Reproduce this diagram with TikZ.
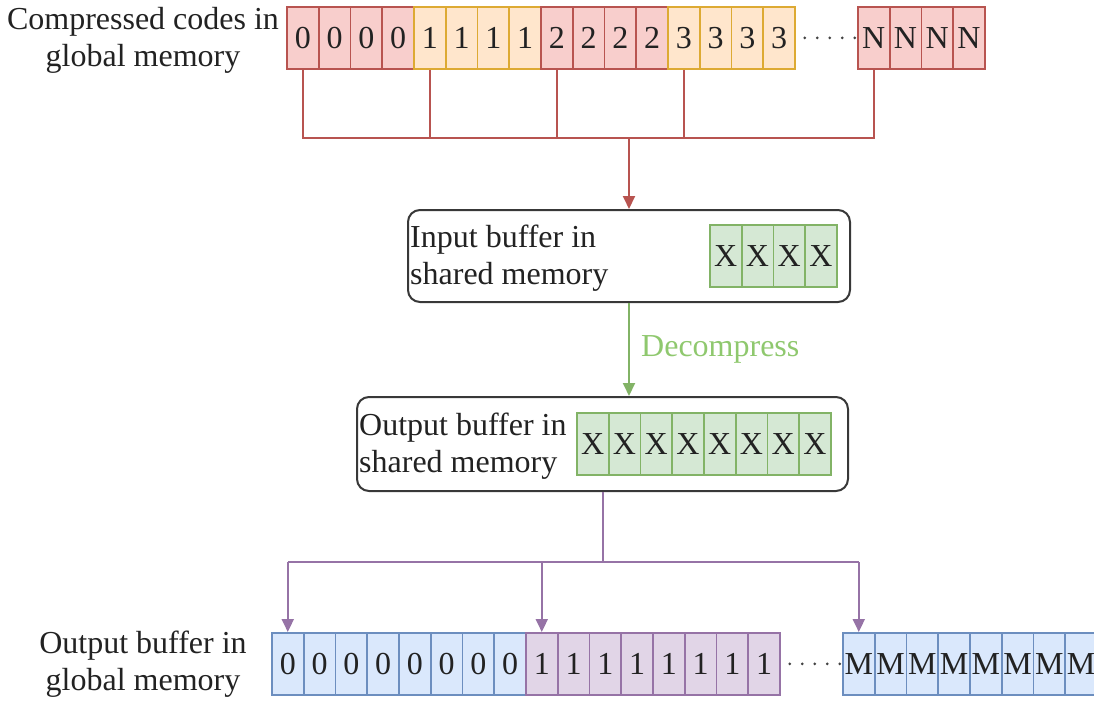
\documentclass[tikz,border=0pt]{standalone}
\usepackage{fontspec}
\setmainfont{Liberation Serif}
\usetikzlibrary{arrows.meta}

\definecolor{redfill}{HTML}{F8CECC}
\definecolor{redline}{HTML}{B85450}
\definecolor{orfill}{HTML}{FFE6CC}
\definecolor{orline}{HTML}{DDAA33}
\definecolor{grfill}{HTML}{D5E8D4}
\definecolor{grline}{HTML}{82B366}
\definecolor{grtext}{HTML}{8FC86E}
\definecolor{blfill}{HTML}{DAE8FC}
\definecolor{blline}{HTML}{6C8EBF}
\definecolor{pufill}{HTML}{E1D5E7}
\definecolor{puline}{HTML}{9673A6}
\definecolor{ink}{HTML}{222222}

\tikzset{
  cell/.style={draw, line width=1.8pt, minimum width=31.75pt, minimum height=62pt,
    inner sep=0pt, anchor=north west, text=ink, font=\fontsize{32}{38}\selectfont},
  label/.style={text=ink, inner sep=0pt, font=\fontsize{32}{37}\selectfont},
  bufbox/.style={draw=ink!90, line width=2pt, rounded corners=12pt, anchor=north west, inner sep=0pt},
  wire/.style={line width=2pt},
  tip/.style={-{Triangle[length=13pt,width=12pt]}},
  ellipsis/.style={line width=3pt, ink!85, line cap=round, dash pattern=on 0pt off 12.5pt}
}

\begin{document}
\begin{tikzpicture}[x=1pt, y=-1pt]
\useasboundingbox (0,0) rectangle (1094,706);
\clip (0,0) rectangle (1094,706);

% compressed codes in global memory
\node[label, align=center] (gtitle) at (143,40) {Compressed codes in\\global memory};
\foreach \i in {0,...,15}{
  \pgfmathtruncatemacro\g{floor(\i/4)}
  \ifodd\g \def\fc{orfill}\def\dc{orline}\else\def\fc{redfill}\def\dc{redline}\fi
  \node[cell, fill=\fc, draw=\dc] (t\i) at ({286+31.75*\i},6) {\g};
}
\foreach \i in {0,...,3}{
  \node[cell, fill=redfill, draw=redline] (n\i) at ({857+31.75*\i},6) {N};
}
\draw[ellipsis] ([xshift=9pt]t15.east) -- ([xshift=-2pt]n0.west);

% gather into the input buffer
\coordinate (bus) at (629,138);
\draw[wire, redline] (t0.south) -- (t0.south |- bus) -- (n0.south |- bus) -- (n0.south);
\foreach \i in {4,8,12}{
  \draw[wire, redline] (t\i.south) -- (t\i.south |- bus);
}

% input buffer in shared memory
\node[bufbox, minimum width=442pt, minimum height=92pt] (inbox) at (407,209) {};
\draw[wire, redline, tip] (bus) -- (bus |- inbox.north);
\node[label, align=left, anchor=west] (intext) at (410,258) {Input buffer in\\shared memory};
\foreach \i in {0,...,3}{
  \node[cell, fill=grfill, draw=grline] (ix\i) at ({709+31.75*\i},224) {X};
}

% output buffer in shared memory
\node[bufbox, minimum width=491pt, minimum height=94pt] (outbox) at (356,396) {};
\node[label, align=left, anchor=west] (outtext) at (359,446) {Output buffer in\\shared memory};
\foreach \i in {0,...,7}{
  \node[cell, fill=grfill, draw=grline] (ox\i) at ({576+31.75*\i},412) {X};
}
\draw[wire, grline, tip] (bus |- inbox.south) -- (bus |- outbox.north);
\node[label, text=grtext, anchor=west] (dec) at (641,349) {Decompress};

% output buffer in global memory
\node[label, align=center] (otitle) at (143,664) {Output buffer in\\global memory};
\foreach \i in {0,...,7}{
  \node[cell, fill=blfill, draw=blline] (b\i) at ({271+31.75*\i},632) {0};
}
\foreach \i in {8,...,15}{
  \node[cell, fill=pufill, draw=puline] (b\i) at ({271+31.75*\i},632) {1};
}
\foreach \i in {0,...,7}{
  \node[cell, fill=blfill, draw=blline] (m\i) at ({842+31.75*\i},632) {M};
}
\draw[ellipsis] ([xshift=9pt]b15.east) -- ([xshift=-2pt]m0.west);

% scatter to the global output buffer
\coordinate (pbus) at (outbox.south |- 0,562);
\draw[wire, puline] (outbox.south) -- (pbus);
\draw[wire, puline] (b0.north |- pbus) -- (m0.north |- pbus);
\draw[wire, puline, tip] (b0.north |- pbus) -- (b0.north);
\draw[wire, puline, tip] (b8.north |- pbus) -- (b8.north);
\draw[wire, puline, tip] (m0.north |- pbus) -- (m0.north);
\end{tikzpicture}
\end{document}
